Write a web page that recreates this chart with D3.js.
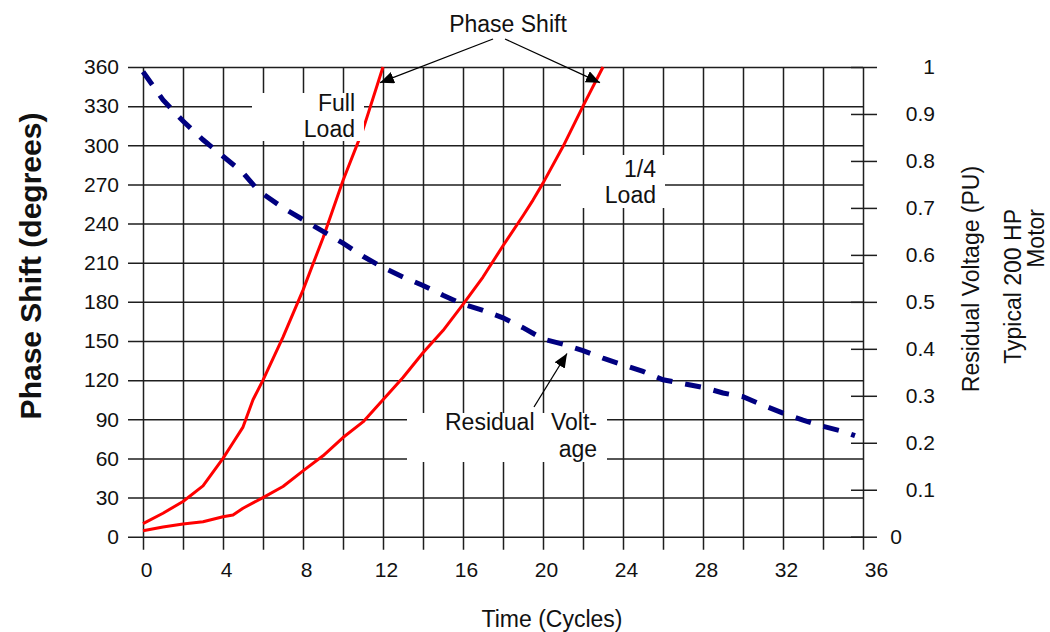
<!DOCTYPE html>
<html><head><meta charset="utf-8">
<script src="https://cdn.jsdelivr.net/npm/d3@7"></script>
<style>
html,body{margin:0;padding:0;background:#fff;}
svg text{font-family:"Liberation Sans",Arial,sans-serif;fill:#111;}
</style></head>
<body><svg id="c" width="1050" height="632"></svg>
<script>
// ---- data ----
const fullLoadCycles = [0,1,2,3,4,4.5,5,5.5,6,7,8,9,10,11,12];
const fullLoadPhase  = [10,18,27,39,60,72,84,105,120,153,189,229,273,312,360];
const quarterLoadCycles = [0,1,2,3,4,4.5,5,6,7,8,9,10,11,12,13,14,15,16,17,18,19,19.5,20,21,22,23];
const quarterLoadPhase  = [4.6,7.5,9.7,11.5,15.3,16.6,21.8,30,38.5,50.5,62,76,88,105,122,141,158,178,199,223,246,258,271,299,330,360];
const voltageCycles = [0,1,2,3,4,5,5.7,6,7,8,9,10,11,12,13,14,15,16,17,18,19,20,21,22,23,24,25,26,27,28,29,30,31,32,33,34,35,35.6];
const residualVoltage = [0.99,0.93,0.885,0.845,0.81,0.775,0.74,0.73,0.70,0.675,0.65,0.625,0.597,0.573,0.553,0.535,0.514,0.495,0.482,0.466,0.445,0.421,0.41,0.396,0.38,0.366,0.352,0.334,0.326,0.318,0.306,0.298,0.28,0.263,0.248,0.235,0.224,0.215];
const xTicks = d3.range(0, 37, 2);          // grid every 2 cycles
const xLabels = [0,4,8,12,16,20,24,28,32,36];
const yTicks = d3.range(0, 361, 30);
const yRightTicks = [0,0.1,0.2,0.3,0.4,0.5,0.6,0.7,0.8,0.9,1];

// ---- layout ----
const svg = d3.select("#c");
const L = 143, R = 863, T = 67, B = 536.7;
const x = d3.scaleLinear().domain([0,36]).range([L,R]);
const y = d3.scaleLinear().domain([0,360]).range([B,T]);
const yR = d3.scaleLinear().domain([0,1]).range([B,T]);
const gridColor = "#1e1e1e";
const fs = 21;

// horizontal grid + left labels
const gl = svg.append("g").attr("transform",`translate(${L-15},0)`)
  .call(d3.axisLeft(y).tickValues(yTicks).tickSizeInner(-(R-L+15)).tickSizeOuter(0).tickPadding(9).tickFormat(d3.format("d")));
gl.select(".domain").remove();
gl.selectAll(".tick line").attr("stroke",gridColor).attr("stroke-width",1.5);
gl.selectAll(".tick text").style("font-size",fs+"px").attr("fill","#111");

// vertical grid + bottom labels
const gb = svg.append("g").attr("transform",`translate(0,${B+13})`)
  .call(d3.axisBottom(x).tickValues(xTicks).tickSizeInner(-(B+13-T)).tickSizeOuter(0).tickPadding(12)
    .tickFormat(d => xLabels.includes(d) ? d : ""));
gb.select(".domain").remove();
gb.selectAll(".tick line").attr("stroke",gridColor).attr("stroke-width",1.5);
gb.selectAll(".tick text").style("font-size",fs+"px").attr("fill","#111")
  .attr("x", d => d === 36 ? 13 : 3);

// right axis ticks
const gr = svg.append("g").attr("transform",`translate(${R-12},0)`)
  .call(d3.axisRight(yR).tickValues(yRightTicks).tickSizeInner(26).tickSizeOuter(0).tickPadding(0)
    .tickFormat(d => d3.format("~g")(d)));
gr.select(".domain").remove();
gr.selectAll(".tick line").attr("stroke",gridColor).attr("stroke-width",1.5);
gr.selectAll(".tick text").style("font-size",fs+"px").attr("fill","#111")
  .attr("text-anchor","end").attr("x", d => d === 0 ? 51 : 84);

// ---- series ----
const lineFull = d3.line().x((d,i)=>x(fullLoadCycles[i])).y(d=>y(d));
const lineQuarter = d3.line().x((d,i)=>x(quarterLoadCycles[i])).y(d=>y(d));
const lineV = d3.line().x((d,i)=>x(voltageCycles[i])).y(d=>yR(d));

svg.append("path").datum(fullLoadPhase).attr("d",lineFull)
  .attr("fill","none").attr("stroke","#ff0000").attr("stroke-width",3).attr("stroke-linejoin","round");
svg.append("path").datum(quarterLoadPhase).attr("d",lineQuarter)
  .attr("fill","none").attr("stroke","#ff0000").attr("stroke-width",3).attr("stroke-linejoin","round");
svg.append("path").datum(residualVoltage).attr("d",lineV)
  .attr("fill","none").attr("stroke","#000080").attr("stroke-width",5).attr("stroke-dasharray","16,13");

// ---- annotation boxes (white) ----
function box(x0,x1,y0,y1){
  svg.append("rect").attr("x",x0).attr("y",y0).attr("width",x1-x0).attr("height",y1-y0).attr("fill","#fff");
}
box(252,364,93,141);
box(561,665,155,208);
box(407,607,413,462);

const afs = 23;
function txt(s,px,py,anchor){
  svg.append("text").attr("x",px).attr("y",py).attr("text-anchor",anchor||"start")
    .style("font-size",afs+"px").text(s);
}
txt("Full",355,111,"end");
txt("Load",355,137,"end");
txt("1/4",656,177,"end");
txt("Load",656,203,"end");
txt("Residual",445,430,"start");
txt("Volt-",597,430,"end");
txt("age",597,457,"end");
txt("Phase Shift",508,32,"middle");

// arrows
const defs = svg.append("defs");
defs.append("marker").attr("id","ah").attr("viewBox","0 0 14 12").attr("refX",14).attr("refY",6)
  .attr("markerWidth",14).attr("markerHeight",12).attr("markerUnits","userSpaceOnUse").attr("orient","auto")
  .append("path").attr("d","M0,0L14,6L0,12Z").attr("fill","#000");
function arrow(x0,y0,x1,y1){
  svg.append("line").attr("x1",x0).attr("y1",y0).attr("x2",x1).attr("y2",y1)
    .attr("stroke","#000").attr("stroke-width",1.3).attr("marker-end","url(#ah)");
}
arrow(493,39,x(11.85),y(348));
arrow(505,39,x(22.85),y(348));
arrow(534,407,x(21.2),yR(0.39));

// ---- axis titles ----
svg.append("text").attr("x",552).attr("y",627).attr("text-anchor","middle").style("font-size",afs+"px").text("Time (Cycles)");
svg.append("text").attr("transform","translate(41,266) rotate(-90)").attr("text-anchor","middle")
  .style("font-size","30px").style("font-weight","bold").text("Phase Shift (degrees)");
svg.append("text").attr("transform","translate(979,279) rotate(-90)").attr("text-anchor","middle")
  .style("font-size",afs+"px").text("Residual Voltage (PU)");
svg.append("text").attr("transform","translate(1021,209) rotate(-90)").attr("text-anchor","end")
  .style("font-size",afs+"px").text("Typical 200 HP");
svg.append("text").attr("transform","translate(1044,209) rotate(-90)").attr("text-anchor","end")
  .style("font-size",afs+"px").text("Motor");
</script></body></html>
